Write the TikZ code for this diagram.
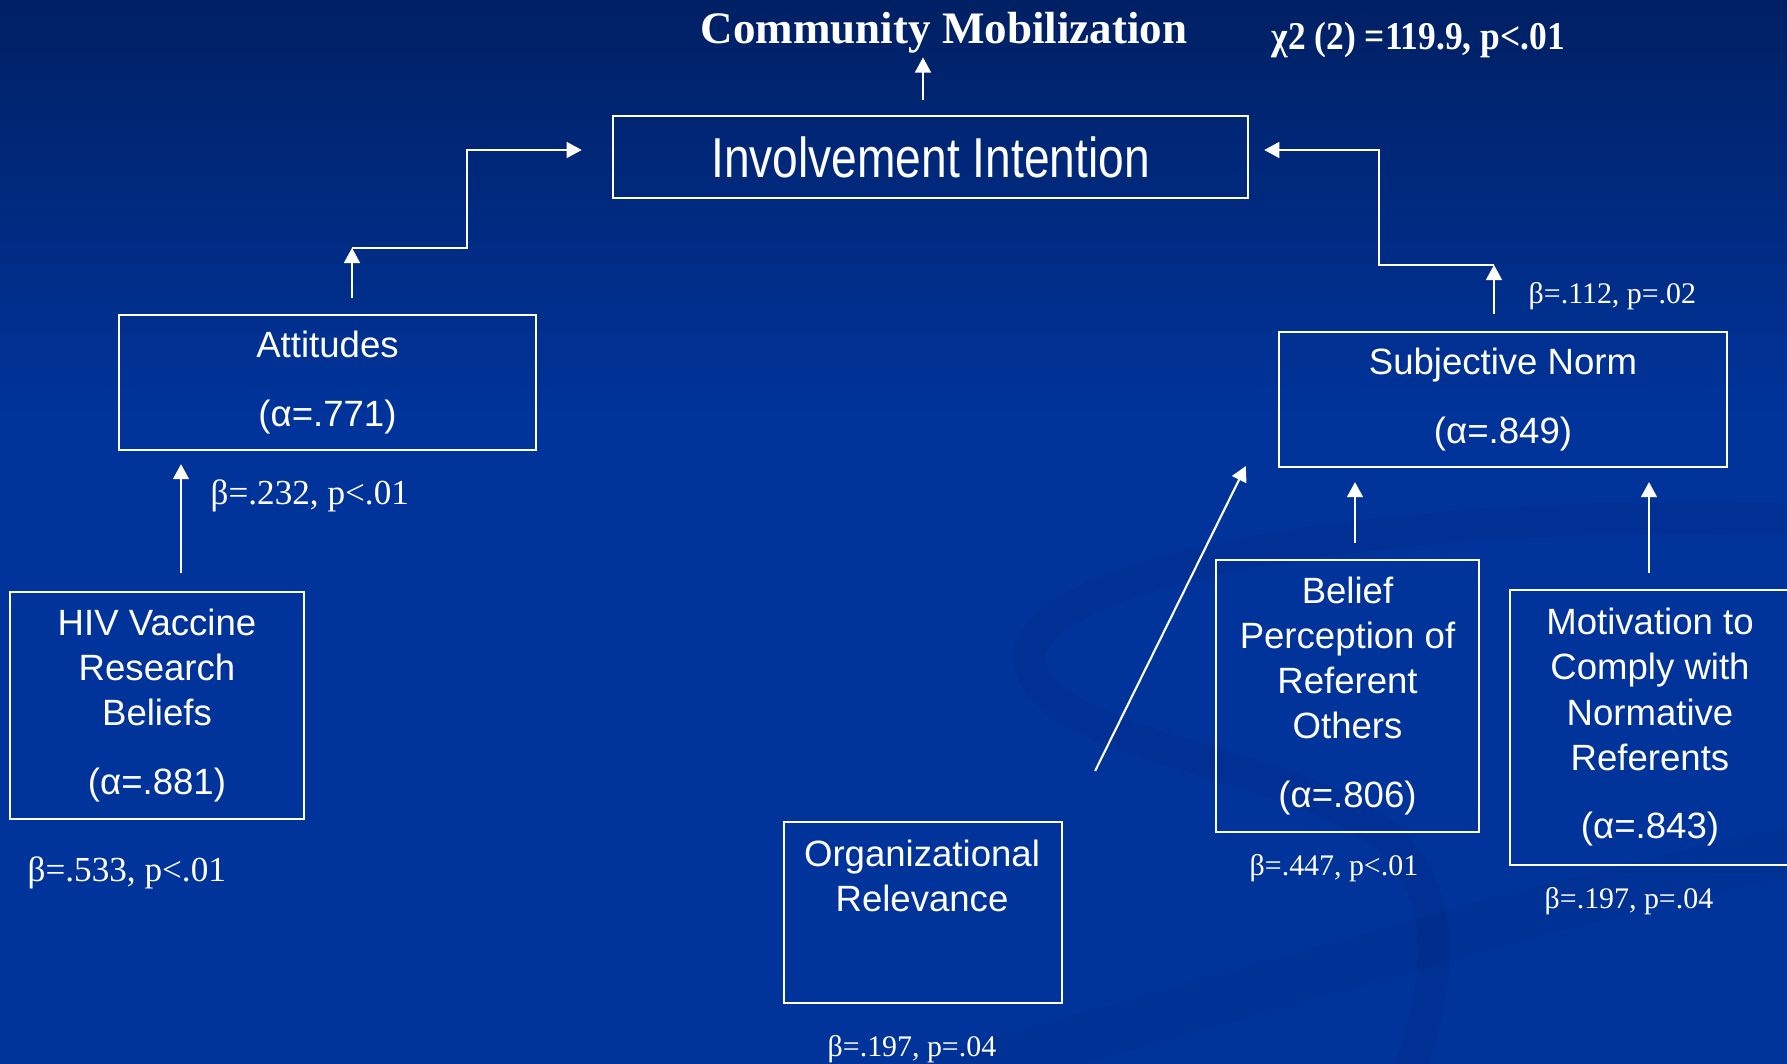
\documentclass[tikz,border=0pt]{standalone}
\usepackage{fontspec}
\setmainfont{Liberation Serif}
\newfontfamily\arialf{Liberation Sans}
\newfontfamily\arialn[FakeStretch=0.82]{Liberation Sans}
\newfontfamily\timesn[FakeStretch=0.9]{Liberation Serif}
\usetikzlibrary{arrows.meta}
\definecolor{bgtop}{RGB}{0,32,100}
\definecolor{bgblue}{RGB}{0,52,155}
\definecolor{swooshc}{RGB}{0,36,120}
\begin{document}
\begin{tikzpicture}[x=0.01cm,y=-0.01cm,
  box/.style={draw=white, line width=0.6pt, inner sep=0pt, text=white, align=center,
    font=\arialf\fontsize{10.4pt}{12.8pt}\selectfont},
  boxtext/.style={inner sep=0pt, text=white, align=center,
    font=\arialf\fontsize{10.4pt}{12.8pt}\selectfont},
  lbl/.style={text=white, inner sep=0pt, anchor=base west},
  biglbl/.style={lbl, font=\fontsize{10pt}{12pt}\selectfont},
  smalllbl/.style={lbl, font=\fontsize{8.5pt}{10pt}\selectfont},
  arr/.style={draw=white, line width=0.6pt, -{Triangle[length=4.3pt,width=4.5pt]}},
  swoosh/.style={draw=swooshc, line cap=round}
]
\useasboundingbox (0,0) rectangle (1787,1064);
% background
\fill[bgblue] (0,0) rectangle (1787,1064);
\shade[top color=bgtop, bottom color=bgblue] (0,0) rectangle (1787,420);
% faint decorative swooshes
\draw[swoosh, line width=9pt, opacity=0.2] (1800,520) .. controls (1400,505) and (1010,570) .. (1030,665) .. controls (1050,750) and (1300,760) .. (1390,840) .. controls (1450,900) and (1440,980) .. (1410,1070);
\draw[swoosh, line width=14pt, opacity=0.18] (950,1075) .. controls (1300,980) and (1550,900) .. (1800,850);

% title and fit statistic
\node[lbl, anchor=base, font=\bfseries\fontsize{12.8pt}{15pt}\selectfont] (title) at (944,44) {Community Mobilization};
\node[lbl, font=\timesn\bfseries\fontsize{11.2pt}{13pt}\selectfont] (chi) at (1271,50) {χ2 (2) =119.9, p<.01};

% boxes
\node[box, minimum width=6.35cm, minimum height=0.82cm, font=\arialn\fontsize{16pt}{19pt}\selectfont] (inv) at (930.5,157) {Involvement Intention};
\node[box, minimum width=4.17cm, minimum height=1.35cm] (att) at (327.5,382.5) {Attitudes\\[6.8pt](α=.771)};
\node[box, minimum width=4.48cm, minimum height=1.35cm] (subj) at (1503,399.5) {Subjective Norm\\[6.8pt](α=.849)};
\node[box, minimum width=2.94cm, minimum height=2.27cm] (hiv) at (157,705.5) {HIV Vaccine\\Research\\Beliefs\\[6.8pt](α=.881)};
\node[box, minimum width=2.78cm, minimum height=1.81cm] (org) at (923,912.5) {};
\node[boxtext] (orgtxt) at (922,876) {Organizational\\Relevance};
\node[box, minimum width=2.63cm, minimum height=2.72cm] (bel) at (1347.5,696) {Belief\\Perception of\\Referent\\Others\\[6.8pt](α=.806)};
\node[box, minimum width=2.80cm, minimum height=2.75cm] (mot) at (1650,727.5) {Motivation to\\Comply with\\Normative\\Referents\\[6.8pt](α=.843)};

% coefficient labels
\node[biglbl] (b232) at (210,505) {β=.232, p<.01};
\node[biglbl] (b533) at (27,882) {β=.533, p<.01};
\node[smalllbl] (b112) at (1528,304) {β=.112, p=.02};
\node[smalllbl] (b447) at (1249,875) {β=.447, p<.01};
\node[smalllbl] (b197m) at (1544,909) {β=.197, p=.04};
\node[smalllbl] (b197o) at (827,1056) {β=.197, p=.04};

% connectors
\draw[arr] ([shift={(-7.5,-15)}]inv.north) -- ([shift={(-21,3)}]title.south);

\coordinate (atttip) at ([shift={(24.5,-66)}]att.north);
\draw[arr] ([shift={(24.5,-16)}]att.north) -- (atttip);
\coordinate (attknee) at (467,150);
\draw[arr] (atttip) -| (attknee) -- ([shift={(-30,-7)}]inv.west);

\coordinate (subjtip) at ([shift={(-9,-66)}]subj.north);
\draw[arr] ([shift={(-9,-17)}]subj.north) -- (subjtip);
\coordinate (subjknee) at (1379,150);
\draw[arr] (subjtip) -| (subjknee) -- ([shift={(15,-7)}]inv.east);

\draw[arr] ([shift={(24,-18)}]hiv.north) -- ([shift={(-146.5,13)}]att.south);
\draw[arr] ([shift={(7.5,-16)}]bel.north) -- ([shift={(-148,14)}]subj.south);
\draw[arr] ([shift={(-1,-16)}]mot.north) -- ([shift={(146,14)}]subj.south);
\draw[arr] ([shift={(32,-50)}]org.north east) -- ([shift={(-32,-2)}]subj.south west);
\end{tikzpicture}
\end{document}
